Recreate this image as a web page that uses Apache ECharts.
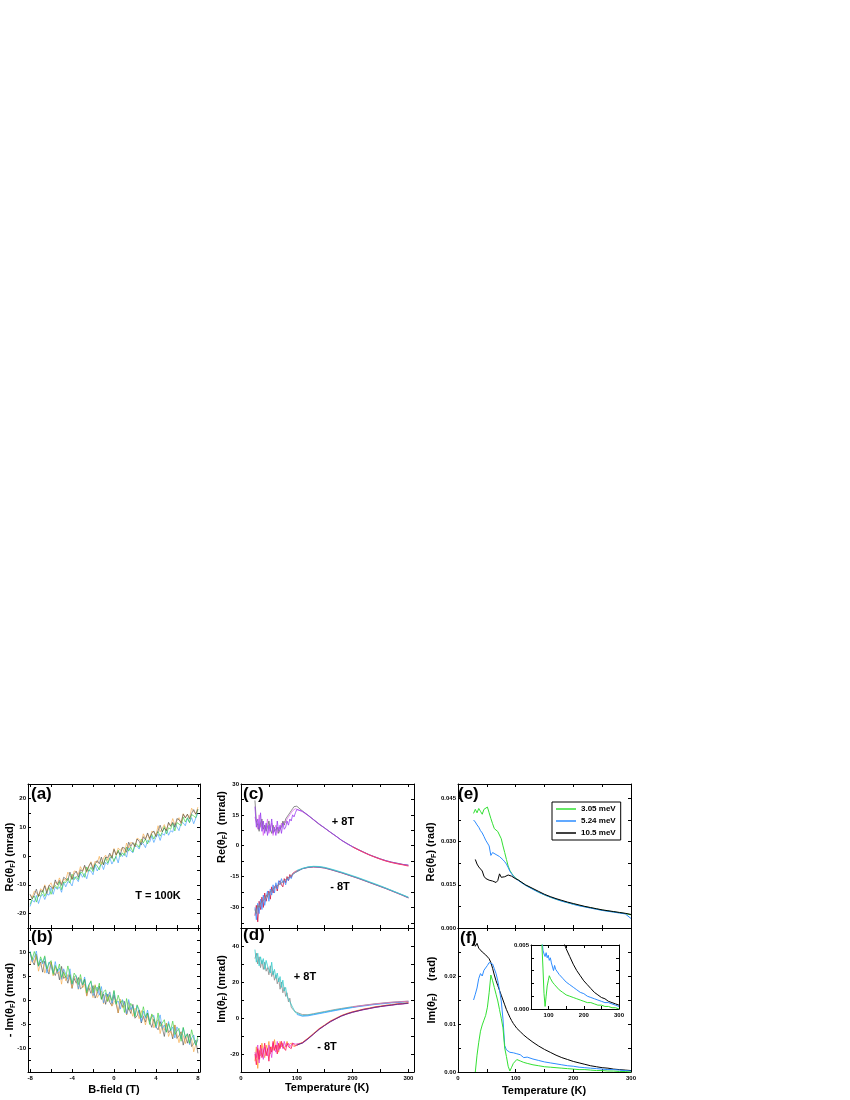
<!DOCTYPE html>
<html><head><meta charset="utf-8">
<script src="https://cdn.jsdelivr.net/npm/echarts@6/dist/echarts.min.js"></script>
<style>html,body{margin:0;padding:0;background:#fff}#c{width:850px;height:1100px}</style>
</head><body><div id="c"></div>
<script>
// ---------- DATA ----------
const B_FIELD = [-8,-7.8,-7.6,-7.4,-7.2,-7,-6.8,-6.6,-6.4,-6.2,-6,-5.8,-5.6,-5.4,-5.2,-5,-4.8,-4.6,-4.4,-4.2,-4,-3.8,-3.6,-3.4,-3.2,-3,-2.8,-2.6,-2.4,-2.2,-2,-1.8,-1.6,-1.4,-1.2,-1,-0.8,-0.6,-0.4,-0.2,0,0.2,0.4,0.6,0.8,1,1.2,1.4,1.6,1.8,2,2.2,2.4,2.6,2.8,3,3.2,3.4,3.6,3.8,4,4.2,4.4,4.6,4.8,5,5.2,5.4,5.6,5.8,6,6.2,6.4,6.6,6.8,7,7.2,7.4,7.6,7.8,8];
// (a) Re(theta_F) mrad vs B, T = 100K
const A_BLACK = [-13.3,-14.9,-13.5,-11.5,-14.1,-12.0,-12.5,-10.4,-13.1,-10.2,-10.7,-11.3,-8.3,-10.0,-8.5,-10.2,-7.4,-7.9,-8.5,-5.6,-8.2,-6.2,-5.3,-7.4,-4.8,-5.4,-3.2,-5.4,-3.5,-2.3,-4.7,-2.7,-1.6,-2.7,-0.4,-3.1,-0.4,-0.6,1.0,-0.8,2.3,0.4,1.6,0.4,3.0,2.8,1.3,4.8,3.3,4.7,3.3,5.9,5.1,3.8,6.7,5.7,8.0,6.1,7.9,8.7,6.7,8.7,10.7,8.4,9.7,8.8,11.7,10.3,11.7,10.0,13.0,12.6,11.6,14.5,13.2,14.5,12.8,14.8,16.1,14.5,16.3];
const A_ORANGE = [-13.4,-14.4,-12.2,-12.7,-13.9,-11.4,-12.1,-10.0,-12.1,-10.3,-9.3,-11.5,-9.0,-9.6,-7.6,-9.7,-8.0,-8.5,-5.6,-6.8,-8.0,-5.2,-5.4,-6.4,-3.7,-5.2,-3.6,-5.7,-3.6,-2.0,-4.0,-1.8,-2.4,-0.1,-3.0,-0.7,0.3,-1.5,0.4,-0.1,2.6,0.3,2.8,1.9,2.9,1.0,4.5,2.8,4.7,4.4,3.2,6.2,5.8,4.7,7.7,6.1,7.5,5.7,8.6,8.3,7.1,10.5,8.4,9.6,10.9,8.9,11.4,10.5,13.0,10.8,12.2,13.3,11.2,14.7,13.4,14.5,13.2,16.6,15.4,14.6,17.0];
const A_GREEN = [-16.8,-14.8,-13.9,-16.0,-13.4,-14.0,-11.8,-14.0,-12.1,-10.9,-13.3,-11.3,-10.2,-11.3,-9.0,-11.7,-9.0,-9.2,-7.7,-9.4,-6.3,-8.2,-7.1,-8.2,-5.6,-5.8,-7.4,-3.8,-5.3,-3.9,-5.4,-2.7,-3.5,-4.8,-2.0,-2.9,-0.6,-2.5,-0.8,0.1,-1.9,0.1,2.1,-0.2,1.1,0.2,3.1,1.7,3.1,1.4,4.4,4.0,3.0,5.9,4.6,5.9,4.2,6.2,7.5,5.9,7.7,8.5,6.9,8.3,10.3,7.7,9.8,9.3,11.4,8.7,11.6,11.1,10.5,13.5,11.8,13.3,11.6,14.4,13.9,13.3,16.2];
const A_BLUE = [-17.5,-15.3,-16.0,-13.7,-16.5,-14.2,-13.3,-15.1,-13.2,-13.6,-11.0,-13.3,-10.8,-11.6,-10.7,-12.6,-9.1,-10.7,-8.9,-9.2,-10.4,-7.3,-7.8,-8.9,-5.9,-7.4,-6.1,-7.9,-5.0,-5.2,-6.5,-3.1,-5.2,-3.9,-2.7,-4.7,-2.2,-3.0,-0.6,-2.8,-1.4,-0.2,-2.4,1.1,-0.2,1.0,-0.4,3.0,1.8,1.1,3.5,3.4,2.4,4.7,4.2,2.9,5.4,4.8,6.9,4.7,6.5,7.6,5.4,7.8,7.2,9.3,7.2,8.8,8.3,11.3,10.1,8.8,11.6,11.5,10.5,13.1,11.6,13.3,11.2,13.2,14.8];
// (b) -Im(theta_F) mrad vs B
const B_GREEN = [10.0,8.4,10.1,8.9,7.1,9.0,7.8,9.2,6.5,7.7,8.2,5.3,7.2,6.0,7.5,4.7,5.8,4.7,7.1,5.2,3.4,5.6,4.9,3.2,5.3,3.2,4.3,1.5,3.0,4.0,1.5,3.0,1.8,3.5,0.1,1.7,2.1,-0.3,1.0,-0.1,2.0,-0.9,1.0,-0.5,-0.1,-2.6,0.3,-2.0,-0.7,-1.6,-3.5,-1.0,-2.0,-3.7,-1.4,-3.5,-2.7,-5.1,-2.9,-3.7,-5.5,-2.7,-5.5,-4.8,-4.1,-6.7,-4.9,-6.3,-4.4,-7.2,-6.5,-5.9,-8.6,-5.7,-7.7,-7.1,-9.0,-6.2,-8.1,-9.4,-7.6];
const B_BLUE = [10.2,8.0,8.9,10.2,7.0,8.5,7.5,8.9,5.6,7.9,6.9,5.6,8.0,5.7,6.7,4.3,6.5,5.4,4.3,6.5,3.3,4.7,5.1,2.3,4.3,3.1,4.8,1.9,3.2,3.8,0.9,2.2,2.7,1.0,2.8,-0.6,1.5,0.7,1.7,-0.7,1.8,-0.7,-0.2,-1.9,0.1,-0.7,-2.9,0.1,-2.0,-1.2,-3.3,-1.2,-2.6,-4.5,-2.3,-3.8,-2.1,-4.6,-3.5,-3.2,-5.8,-4.4,-3.1,-5.9,-5.2,-6.7,-4.5,-6.4,-5.6,-7.9,-5.6,-6.5,-8.1,-5.8,-7.8,-7.0,-9.3,-7.9,-7.3,-9.4,-8.2];
const B_ORANGE = [7.4,9.0,7.8,9.4,6.0,7.7,8.1,5.6,6.9,5.9,8.0,5.0,6.9,5.5,5.9,3.3,6.2,4.0,5.3,4.3,2.5,5.0,4.0,2.2,4.6,2.5,3.3,0.8,3.1,2.3,0.5,3.2,0.5,1.2,1.9,-0.8,1.1,-0.3,1.6,-1.3,-0.5,0.1,-2.7,0.2,-1.7,-1.1,-3.1,-0.3,-2.1,-3.4,-1.7,-2.3,-3.9,-2.2,-3.4,-5.2,-3.3,-4.5,-3.1,-5.8,-4.6,-4.1,-7.0,-5.1,-6.3,-4.8,-7.6,-6.5,-7.6,-5.2,-7.1,-8.9,-6.7,-7.4,-9.1,-7.0,-9.1,-8.0,-10.8,-9.3,-8.3];
const B_BLACK = [9.9,8.1,7.3,9.5,7.1,7.9,5.8,8.1,6.4,5.4,7.9,6.0,5.1,6.4,4.2,7.0,4.5,4.9,3.5,5.3,2.4,4.5,3.5,4.7,2.3,2.7,4.4,0.9,2.6,1.4,3.0,0.4,1.4,2.9,0.2,1.2,-0.9,1.2,-0.5,-1.2,1.0,-0.8,-2.7,-0.3,-1.4,-0.3,-3.1,-1.6,-2.8,-0.9,-3.8,-3.3,-2.1,-4.8,-3.4,-4.6,-2.7,-4.5,-5.7,-4.0,-5.6,-6.2,-4.5,-5.8,-7.6,-4.8,-6.8,-6.2,-8.1,-5.2,-8.0,-7.4,-6.6,-9.4,-7.6,-9.0,-7.1,-9.7,-9.1,-8.4,-11.1];

// temperature grids for (c),(d)
const T_CD = [25,27.5,30,32.5,35,37.5,40,42.5,45,47.5,50,52.5,55,57.5,60,62.5,65,67.5,70,72.5,75,77.5,80,82.5,85,87.5,90,92.5,95,97.5,100,110,120,130,140,150,160,170,180,190,200,210,220,230,240,250,260,270,280,290,300];
const T_HI = [100,110,120,130,140,150,160,170,180,190,200,210,220,230,240,250,260,270,280,290,300];
const T_TAIL = [200,210,220,230,240,250,260,270,280,290,300];
// (c) Re(theta_F) mrad vs T
const C_PLUS_PURPLE = [19,9,13,8,16,7,12,6,11,5,10,7,13,6,9,5,12,7,10,6,11,8,9,12,10,13,12,15,14,16,17.6,16.8,14.9,12.7,10.6,8.6,6.6,4.7,2.7,1.0,-0.5,-1.9,-3.2,-4.4,-5.5,-6.5,-7.3,-8.0,-8.6,-9.1,-9.5];
const C_PLUS_MAGENTA = [14,11,8,15,9,12,5,10,8,13,6,9,11,5,8,10,6,9,8,11,10,12,11,13,14,15,16,17,17.5,18,18.2,16.5,14.7,12.5,10.5,8.5,6.5,4.6,2.6,0.9,-0.6,-2.0,-3.2,-4.5,-5.5,-6.5,-7.4,-8.1,-8.7,-9.2,-9.7];
const C_PLUS_GREY = [22,12,10,7,11,13,8,10,7,9,12,8,6,10,7,8,9,6,8,9,12,10,13,14,15,16,17,18,19,18.5,19.2,16.9,14.8,12.7,10.4,8.6,6.6,4.7,2.7,1.1,-0.5,-1.8,-3.1,-4.4,-5.4,-6.4,-7.3,-8.0,-8.5,-9.1,-9.4];
const C_PLUS_RED = [-0.6,-2.0,-3.3,-4.5,-5.6,-6.6,-7.5,-8.2,-8.8,-9.3,-9.9];
const C_MINUS_BLUE = [-30,-36,-28,-33,-26,-31,-24,-29,-25,-22,-27,-21,-24,-19,-23,-18,-21,-17,-19,-16,-18,-17,-19,-16,-17,-15,-16,-14,-14.5,-13,-12.4,-11.2,-10.5,-10.2,-10.4,-10.8,-11.5,-12.3,-13.1,-14.0,-14.9,-15.8,-16.8,-17.8,-18.8,-19.8,-20.8,-21.9,-23.0,-24.1,-25.3];
const C_MINUS_CRIMSON = [-34,-29,-37,-27,-31,-25,-30,-23,-27,-24,-22,-26,-20,-23,-20,-19,-22,-18,-17,-19,-20,-16,-18,-15,-17,-14,-15.5,-13.5,-14,-12.5,-12.2,-11.2,-10.6,-10.4,-10.5,-10.9,-11.6,-12.4,-13.2,-14.1,-15.0,-15.9,-16.9,-17.9,-18.9,-19.9,-20.9,-22.0,-23.1,-24.2,-25.4];
const C_MINUS_GREY = [-31,-33,-29,-30,-28,-27,-27,-26,-24,-25,-23,-23,-22,-21,-21,-20,-19.5,-19,-18.5,-18,-17.5,-17,-16.5,-16,-15.5,-15,-14.5,-14,-13.5,-13,-12.5,-11.1,-10.4,-10.1,-10.2,-10.7,-11.4,-12.2,-13.0,-13.9,-14.8,-15.7,-16.7,-17.7,-18.7,-19.7,-20.7,-21.8,-22.9,-24.0,-25.1];
const C_MINUS_CYAN = [-12.0,-11.0,-10.3,-10.0,-10.1,-10.5,-11.2,-12.0,-12.8,-13.7,-14.6,-15.5,-16.5,-17.5,-18.5,-19.5,-20.6,-21.7,-22.8,-23.9,-25.0];
// (d) Im(theta_F) mrad vs T
const D_PLUS_CYAN = [38,31,36,29,34,30,33,27,32,29,30,25,31,24,27,22,25,20,23,17,21,15,17,12,13,9,9,6,5,3,2.5,1.3,1.6,2.1,2.7,3.3,3.9,4.5,5.0,5.5,6.0,6.5,6.9,7.3,7.7,8.0,8.3,8.6,8.8,9.0,9.2];
const D_PLUS_GREY = [33,36,30,34,28,32,27,31,26,28,24,29,23,26,21,24,19,22,16,20,14,17,12,14,9,11,6,7,4,4,3.1,1.9,1.8,2.4,3.0,3.6,4.2,4.8,5.3,5.8,6.3,6.7,7.1,7.5,7.9,8.2,8.5,8.8,9.0,9.2,9.4];
const D_PLUS_BLUE = [2.0,1.0,1.2,1.8,2.4,3.0,3.6,4.2,4.8,5.3,5.8,6.3,6.7,7.1,7.5,7.8,8.1,8.4,8.6,8.8,9.0];
const D_PLUS_PINK = [6.1,6.6,7.0,7.4,7.8,8.1,8.4,8.7,8.9,9.1,9.3];
const D_MINUS_RED = [-20,-26,-17,-23,-15,-22,-19,-14,-21,-17,-24,-16,-19,-13,-18,-15,-20,-14,-17,-13,-16,-15,-18,-14,-16,-15,-17,-14,-15,-15.5,-15.3,-13.7,-11.3,-8.9,-6.0,-4.1,-1.8,-0.4,1.3,2.3,3.4,4.0,4.9,5.3,6.1,6.4,7.0,7.2,7.8,7.9,8.4];
const D_MINUS_ORANGE = [-24,-16,-28,-18,-21,-14,-19,-22,-15,-18,-13,-20,-16,-18,-12,-17,-15,-19,-13,-16,-14,-17,-15,-13,-15,-16,-14,-15,-16,-15,-14.6,-13.6,-11.2,-8.5,-5.9,-3.8,-1.7,-0.1,1.4,2.6,3.5,4.3,5.0,5.6,6.2,6.7,7.1,7.5,7.9,8.2,8.5];
const D_MINUS_MAGENTA = [-19,-22,-15,-25,-19,-17,-23,-16,-19,-21,-15,-18,-22,-14,-17,-19,-13,-18,-16,-14,-17,-13,-16,-15,-14,-16,-15,-14,-15,-14.5,-15.2,-14.1,-11.7,-9.0,-6.4,-4.2,-2.2,-0.5,1.0,2.2,3.1,3.9,4.6,5.2,5.8,6.3,6.7,7.1,7.5,7.8,8.1];
const D_MINUS_NAVY = [-15.1,-13.9,-11.6,-8.9,-6.3,-4.1,-2.1,-0.4,1.1,2.3,3.2,4.0,4.7,5.3,5.9,6.4,6.8,7.2,7.6,7.9,8.2];

// temperature grid for (e),(f)
const T_EF = [27,30,33,36,39,42,45,48,51,54,57,60,63,66,69,72,75,78,81,84,87,90,93,96,99,102,105,108,111,114,117,120,130,140,150,160,170,180,190,200,210,220,230,240,250,260,270,280,290,300];
// (e) Re(theta_F) rad
const E_305 = [0.0398,0.0412,0.0400,0.0415,0.0405,0.0395,0.0412,0.0418,0.0420,0.0400,0.0380,0.0362,0.0345,0.0350,0.0335,0.0340,0.0310,0.0285,0.0262,0.0238,0.0215,0.0200,0.0190,0.0182,0.0175,0.0170,0.0166,0.0161,0.0157,0.0153,0.0149,0.0146,0.0135,0.0124,0.0115,0.0107,0.0100,0.0094,0.0088,0.0083,0.0078,0.0074,0.0070,0.0066,0.0062,0.0059,0.0056,0.0053,0.0050,0.0046];
const E_524 = [0.0375,0.0368,0.0358,0.0350,0.0338,0.0330,0.0318,0.0305,0.0295,0.0285,0.0252,0.0262,0.0258,0.0255,0.0250,0.0248,0.0243,0.0237,0.0230,0.0222,0.0210,0.0197,0.0188,0.0180,0.0174,0.0169,0.0165,0.0160,0.0156,0.0152,0.0148,0.0145,0.0134,0.0124,0.0115,0.0107,0.0100,0.0093,0.0088,0.0082,0.0077,0.0073,0.0069,0.0065,0.0061,0.0058,0.0055,0.0052,0.0049,0.0033];
const E_105 = [null,0.0238,0.0222,0.0212,0.0205,0.0198,0.0180,0.0172,0.0170,0.0166,0.0168,0.0163,0.0160,0.0158,0.0165,0.0188,0.0176,0.0174,0.0178,0.0180,0.0184,0.0188,0.0180,0.0174,0.0172,0.0169,0.0166,0.0162,0.0158,0.0154,0.0150,0.0147,0.0137,0.0127,0.0117,0.0109,0.0102,0.0096,0.0090,0.0085,0.0080,0.0075,0.0071,0.0067,0.0063,0.0060,0.0057,0.0054,0.0051,0.0047];
// (f) Im(theta_F) rad
const F_305 = [null,0.0000,0.0035,0.0062,0.0085,0.0098,0.0108,0.0118,0.0135,0.0165,0.0202,0.0190,0.0176,0.0162,0.0148,0.0130,0.0112,0.0092,0.0050,0.0032,0.0012,0.0002,0.0010,0.0018,0.0022,0.0026,0.0024,0.0023,0.0021,0.0020,0.0019,0.0018,0.0015,0.0013,0.0011,0.0010,0.0009,0.0008,0.0007,0.0006,0.0005,0.0005,0.0004,0.0003,0.0003,0.0002,0.0002,0.0001,0.0001,0.0000];
const F_524 = [0.0150,0.0162,0.0175,0.0195,0.0205,0.0200,0.0212,0.0210,0.0222,0.0228,0.0232,0.0225,0.0215,0.0205,0.0190,0.0170,0.0148,0.0110,0.0055,0.0046,0.0043,0.0041,0.0044,0.0040,0.0042,0.0038,0.0040,0.0036,0.0037,0.0030,0.0034,0.0031,0.0027,0.0024,0.0021,0.0019,0.0017,0.0015,0.0013,0.0012,0.0010,0.0009,0.0008,0.0007,0.0006,0.0005,0.0005,0.0004,0.0003,0.0002];
const F_105 = [0.0272,0.0262,0.0268,0.0258,0.0262,0.0250,0.0253,0.0244,0.0246,0.0236,0.0228,0.0216,0.0202,0.0190,0.0180,0.0170,0.0160,0.0150,0.0140,0.0130,0.0122,0.0114,0.0107,0.0101,0.0096,0.0091,0.0087,0.0084,0.0080,0.0077,0.0074,0.0071,0.0062,0.0054,0.0047,0.0041,0.0035,0.0030,0.0026,0.0022,0.0019,0.0016,0.0013,0.0011,0.0009,0.0008,0.0006,0.0005,0.0004,0.0003];

// ticks and tick labels
const B_TICKS = [-8,-6,-4,-2,0,2,4,6,8];
const B_LABELS = [-8,-4,0,4,8];
const A_Y_TICKS = [-20,-15,-10,-5,0,5,10,15,20];
const A_Y_LABELS = [-20,-10,0,10,20];
const B_Y_TICKS = [-12.5,-10,-7.5,-5,-2.5,0,2.5,5,7.5,10,12.5];
const B_Y_LABELS = [-10,-5,0,5,10];
const T_TICKS = [0,50,100,150,200,250,300];
const T_LABELS = [0,100,200,300];
const C_Y_TICKS = [-37.5,-30,-22.5,-15,-7.5,0,7.5,15,22.5,30];
const C_Y_LABELS = [-30,-15,0,15,30];
const D_Y_TICKS = [-20,-10,0,10,20,30,40];
const D_Y_LABELS = [-20,0,20,40];
const E_Y_TICKS = [0,0.0075,0.015,0.0225,0.03,0.0375,0.045];
const E_Y_LABELS = [0,0.015,0.03,0.045];
const F_Y_TICKS = [0,0.005,0.01,0.015,0.02,0.025];
const F_Y_LABELS = [0,0.01,0.02];
const IN_X_TICKS = [50,100,150,200,250,300];
const IN_X_LABELS = [100,200,300];
const IN_Y_TICKS = [0,0.001,0.002,0.003,0.004,0.005];
const IN_Y_LABELS = [0,0.005];
const LEGEND_NAMES = ['3.05 meV','5.24 meV','10.5 meV'];

// ---------- CHART ----------
const FONT = '"Liberation Sans", Arial, Helvetica, sans-serif';
const chart = echarts.init(document.getElementById('c'), null, {renderer:'canvas'});

const GRIDS = [
  {left:28, top:784, width:172, height:144},
  {left:28, top:928, width:172, height:144},
  {left:241, top:784, width:173, height:144},
  {left:241, top:928, width:173, height:144},
  {left:458, top:784, width:173, height:144},
  {left:458, top:928, width:173, height:144},
  {left:531, top:945, width:88, height:64}
];
const f3 = v => v.toFixed(3), f2 = v => v.toFixed(2), f0 = v => String(v);
const AX = [
  {x:[-8.2,8.2,B_TICKS,null,f0], y:[-25,25,A_Y_TICKS,A_Y_LABELS,f0]},
  {x:[-8.2,8.2,B_TICKS,B_LABELS,f0], y:[-15,15,B_Y_TICKS,B_Y_LABELS,f0]},
  {x:[0,310,T_TICKS,null,f0], y:[-40,30,C_Y_TICKS,C_Y_LABELS,f0]},
  {x:[0,310,T_TICKS,T_LABELS,f0], y:[-30,50,D_Y_TICKS,D_Y_LABELS,f0]},
  {x:[0,300,T_TICKS,null,f0], y:[0,0.05,E_Y_TICKS,E_Y_LABELS,f3]},
  {x:[0,300,T_TICKS,T_LABELS,f0], y:[0,0.03,F_Y_TICKS,F_Y_LABELS,f2]},
  {x:[50,300,IN_X_TICKS,IN_X_LABELS,f0], y:[0,0.005,IN_Y_TICKS,IN_Y_LABELS,f3]}
];
const lineSt = {color:'#000', width:1};
function axisPair(g, spec, isX) {
  const [min, max, ticks, labels, fmt] = spec;
  const base = {gridIndex:g, type:'value', min, max, splitLine:{show:false},
    axisLine:{show:true, onZero:false, lineStyle:lineSt},
    axisTick:{show:true, inside:true, length:3, customValues:ticks, lineStyle:lineSt}};
  const lab = labels ? {show:true, customValues:labels, formatter:fmt, margin:isX?3:2,
      fontSize:6, fontWeight:'bold', color:'#000', fontFamily:FONT, showMinLabel:true, showMaxLabel:true}
    : {show:false};
  return [
    Object.assign({}, base, {position: isX?'bottom':'left', axisLabel:lab}),
    Object.assign({}, base, {position: isX?'top':'right', axisLabel:{show:false}})
  ];
}
const xAxis = [], yAxis = [];
AX.forEach((a, g) => { xAxis.push(...axisPair(g, a.x, true)); yAxis.push(...axisPair(g, a.y, false)); });

function pairs(xs, ys) {
  const out = [];
  for (let i = 0; i < ys.length && i < xs.length; i++) if (ys[i] !== null) out.push([xs[i], ys[i]]);
  return out;
}
const series = [];
function add(name, g, xs, ys, color, width, opacity) {
  series.push({name, type:'line', xAxisIndex:2*g, yAxisIndex:2*g, data:pairs(xs, ys),
    symbol:'none', silent:true, clip:true,
    lineStyle:{color, width, opacity: opacity==null?1:opacity}, itemStyle:{color}});
}
// (a)
add('a-blue',0,B_FIELD,A_BLUE,'#3399ff',0.7,0.9);
add('a-green',0,B_FIELD,A_GREEN,'#33cc33',0.7,0.9);
add('a-orange',0,B_FIELD,A_ORANGE,'#f5a742',0.7,0.9);
add('a-black',0,B_FIELD,A_BLACK,'#444444',0.7,0.85);
// (b)
add('b-black',1,B_FIELD,B_BLACK,'#444444',0.7,0.85);
add('b-orange',1,B_FIELD,B_ORANGE,'#f5a742',0.7,0.9);
add('b-blue',1,B_FIELD,B_BLUE,'#3399ff',0.7,0.9);
add('b-green',1,B_FIELD,B_GREEN,'#33cc33',0.7,0.9);
// (c)
add('c-p-magenta',2,T_CD,C_PLUS_MAGENTA,'#e070f0',0.8);
add('c-p-grey',2,T_CD,C_PLUS_GREY,'#707070',0.8);
add('c-p-purple',2,T_CD,C_PLUS_PURPLE,'#9a3cf0',0.8);
add('c-p-red',2,T_TAIL,C_PLUS_RED,'#ff3b5c',0.9);
add('c-m-crimson',2,T_CD,C_MINUS_CRIMSON,'#cc1144',0.8);
add('c-m-blue',2,T_CD,C_MINUS_BLUE,'#3d8cff',0.8);
add('c-m-grey',2,T_CD,C_MINUS_GREY,'#808080',0.8);
add('c-m-cyan',2,T_HI,C_MINUS_CYAN,'#33d6e0',0.8);
// (d)
add('d-p-grey',3,T_CD,D_PLUS_GREY,'#8a8a8a',0.8);
add('d-p-cyan',3,T_CD,D_PLUS_CYAN,'#33cccc',0.8);
add('d-p-blue',3,T_HI,D_PLUS_BLUE,'#3399ff',0.8);
add('d-p-pink',3,T_TAIL,D_PLUS_PINK,'#ff66aa',0.8);
add('d-m-orange',3,T_CD,D_MINUS_ORANGE,'#ff9933',0.8);
add('d-m-magenta',3,T_CD,D_MINUS_MAGENTA,'#dd44dd',0.8);
add('d-m-red',3,T_CD,D_MINUS_RED,'#ff1155',0.8);
add('d-m-navy',3,T_HI,D_MINUS_NAVY,'#3a3a80',0.8);
// (e)
add('3.05 meV',4,T_EF,E_305,'#33e033',1);
add('5.24 meV',4,T_EF,E_524,'#2d8cff',1);
add('10.5 meV',4,T_EF,E_105,'#000000',1);
// (f)
add('f-105',5,T_EF,F_105,'#000000',1);
add('f-524',5,T_EF,F_524,'#2d8cff',1);
add('f-305',5,T_EF,F_305,'#33e033',1);
// inset
add('i-105',6,T_EF,F_105,'#000000',1);
add('i-524',6,T_EF,F_524,'#2d8cff',1);
add('i-305',6,T_EF,F_305,'#33e033',1);

const RICH = {
  n:{fontSize:11, fontWeight:'bold', fontFamily:FONT, fill:'#000', color:'#000', lineHeight:14},
  s:{fontSize:7, fontWeight:'bold', fontFamily:FONT, fill:'#000', color:'#000', lineHeight:8, verticalAlign:'bottom'}
};
function title(x, y, text, rot) {
  return {type:'text', x, y, rotation: rot ? Math.PI/2 : 0, silent:true, z:10,
    style:{text, rich:RICH, align:'center', verticalAlign:'middle', fill:'#000',
      fontSize:11, fontWeight:'bold', fontFamily:FONT}};
}
function plain(x, y, text, size, align, valign) {
  return {type:'text', x, y, silent:true, z:10,
    style:{text, fill:'#000', fontSize:size, fontWeight:'bold', fontFamily:FONT,
      align:align||'center', verticalAlign:valign||'middle'}};
}
const graphic = [
  {type:'rect', shape:{x:0,y:0,width:850,height:1100}, style:{fill:'#fff'}, z:-10, silent:true},
  title(10, 857, '{n|Re(θ}{s|F}{n|) (mrad)}', true),
  title(10, 1000, '{n|- Im(θ}{s|F}{n|) (mrad)}', true),
  title(222, 827, '{n|Re(θ}{s|F}{n|)  (mrad)}', true),
  title(222, 989, '{n|Im(θ}{s|F}{n|) (mrad)}', true),
  title(431, 852, '{n|Re(θ}{s|F}{n|) (rad)}', true),
  title(432, 990, '{n|Im(θ}{s|F}{n|)    (rad)}', true),
  title(114, 1090, '{n|B-field (T)}', false),
  title(327, 1088, '{n|Temperature (K)}', false),
  title(544, 1091, '{n|Temperature (K)}', false),
  plain(31, 786, '(a)', 17, 'left', 'top'),
  plain(31, 929, '(b)', 17, 'left', 'top'),
  plain(243, 786, '(c)', 17, 'left', 'top'),
  plain(243, 927, '(d)', 17, 'left', 'top'),
  plain(458, 786, '(e)', 17, 'left', 'top'),
  plain(460, 930, '(f)', 17, 'left', 'top'),
  plain(158, 896, 'T = 100K', 11),
  plain(343, 822, '+ 8T', 11),
  plain(340, 887, '- 8T', 11),
  plain(305, 977, '+ 8T', 11),
  plain(327, 1047, '- 8T', 11)
];

chart.setOption({
  animation:false,
  backgroundColor:'#fff',
  grid: GRIDS.map((g,i) => Object.assign({containLabel:false, outerBoundsMode:'none', show: i===6,
     backgroundColor:'#fff', borderWidth:0}, g)),
  xAxis, yAxis, series, graphic,
  legend:{data:LEGEND_NAMES, left:552, top:802, orient:'vertical', icon:'rect', itemWidth:20, itemHeight:1.5, itemGap:4,
    borderColor:'#000', borderWidth:1, padding:[3,5,3,4], selectedMode:false, backgroundColor:'#fff',
    textStyle:{fontSize:8, fontWeight:'bold', fontFamily:FONT, color:'#000'}}
});
</script></body></html>
